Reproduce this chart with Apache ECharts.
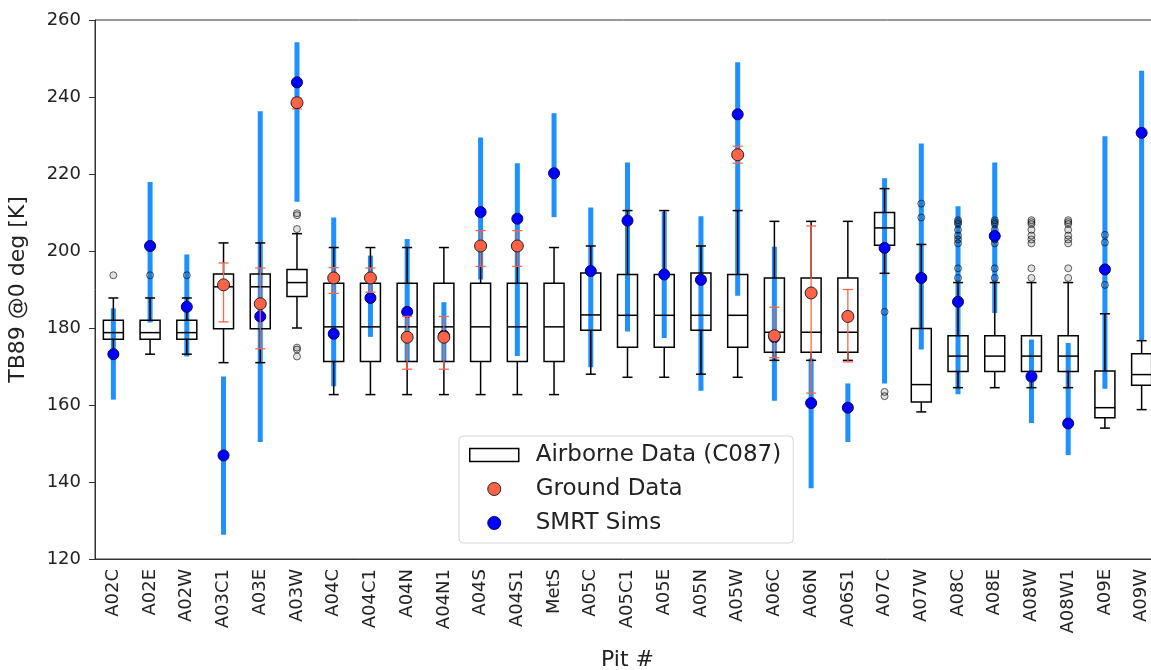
<!DOCTYPE html>
<html>
<head>
<meta charset="utf-8">
<title>TB89 by pit</title>
<script src="https://cdn.jsdelivr.net/npm/echarts@6/dist/echarts.min.js"></script>
<style>
  html, body { margin: 0; padding: 0; background: #fff; }
  #chart { width: 1151px; height: 670px; }
</style>
</head>
<body>
<div id="chart"></div>
<script>
// pit names
var pits = ['A02C', 'A02E', 'A02W', 'A03C1', 'A03E', 'A03W', 'A04C', 'A04C1', 'A04N', 'A04N1',
    'A04S', 'A04S1', 'MetS', 'A05C', 'A05C1', 'A05E', 'A05N', 'A05W', 'A06C', 'A06N',
    'A06S1', 'A07C', 'A07W', 'A08C', 'A08E', 'A08W', 'A08W1', 'A09E', 'A09W'];

// airborne boxplot stats (whisker low, Q1, median, Q3, whisker high)
var boxLow = [173.5, 173.2, 173.2, 171.0, 171.0, 180.0, 162.7, 162.7, 162.7, 162.7,
    162.7, 162.7, 162.7, 168.0, 167.2, 167.2, 168.0, 167.2, 171.6, 171.6,
    171.6, 194.2, 158.2, 164.5, 164.5, 164.5, 164.5, 154.0, 158.8];
var boxQ1 = [177.1, 177.1, 177.1, 179.8, 179.8, 188.2, 171.3, 171.3, 171.3, 171.3,
    171.3, 171.3, 171.3, 179.4, 175.0, 175.0, 179.4, 175.0, 173.7, 173.7,
    173.7, 201.5, 160.8, 168.7, 168.7, 168.7, 168.7, 156.7, 165.1];
var boxMed = [178.8, 178.8, 178.8, 190.7, 190.7, 191.8, 180.3, 180.3, 180.3, 180.3,
    180.3, 180.3, 180.3, 183.4, 183.3, 183.3, 183.3, 183.3, 178.9, 178.9,
    178.9, 206.0, 165.3, 172.7, 172.7, 172.7, 172.7, 159.3, 167.9];
var boxQ3 = [182.0, 182.0, 182.0, 194.0, 194.0, 195.2, 191.6, 191.6, 191.6, 191.6,
    191.6, 191.6, 191.6, 194.3, 193.9, 193.9, 194.3, 193.9, 193.0, 193.0,
    193.0, 210.0, 179.9, 178.0, 178.0, 178.0, 178.0, 168.8, 173.3];
var boxHigh = [187.8, 187.8, 187.8, 202.1, 202.1, 204.5, 200.9, 200.9, 200.9, 200.9,
    200.9, 200.9, 200.9, 201.3, 210.5, 210.5, 201.3, 210.5, 207.7, 207.7,
    207.7, 216.2, 201.7, 191.8, 191.8, 191.8, 191.8, 183.7, 176.7];

// outliers per pit
var a08Fliers = [208.0, 207.5, 207.0, 205.5, 204.0, 203.0, 202.0, 195.5, 193.0];
var fliers = [[193.7], [193.7], [193.7], [], [], [209.8, 209.3, 205.7, 174.9, 174.4, 172.6], [], [], [], [],
    [], [], [], [], [], [], [], [], [], [],
    [], [184.2, 163.4, 162.3], [212.3, 208.7], a08Fliers, a08Fliers, a08Fliers, a08Fliers, [204.2, 202.2, 191.2], []];

// ground data (null = no measurement)
var groundVal = [null, null, null, 191.2, 186.3, 238.5, 193.0, 193.0, 177.6, 177.6,
    201.3, 201.3, null, null, null, null, null, 225.0, 178.0, 189.1,
    183.0, null, null, null, null, null, null, null, null];
var groundLo = [null, null, null, 181.6, 174.6, 236.9, 189.0, 189.3, 169.3, 169.3,
    196.0, 196.0, null, null, null, null, null, 222.8, 172.3, 163.1,
    171.2, null, null, null, null, null, null, null, null];
var groundHi = [null, null, null, 196.9, 195.6, 239.7, 195.7, 195.6, 183.0, 183.0,
    205.3, 205.3, null, null, null, null, null, 227.2, 185.4, 206.5,
    190.0, null, null, null, null, null, null, null, null];

// SMRT simulations
var smrtVal = [173.2, 201.3, 185.5, 146.9, 183.0, 243.8, 178.5, 187.8, 184.2, 178.0,
    210.1, 208.4, 220.2, 194.8, 207.9, 193.9, 192.5, 235.5, 177.6, 160.5,
    159.3, 200.8, 193.0, 186.8, 203.9, 167.4, 155.2, 195.2, 230.7];
var smrtLo = [161.4, 181.4, 172.6, 126.3, 150.4, 212.8, 164.9, 177.7, 171.2, 171.2,
    192.6, 172.7, 208.8, 169.8, 179.1, 177.4, 163.7, 188.4, 161.1, 138.4,
    150.4, 165.6, 174.4, 162.8, 183.9, 155.3, 147.0, 164.2, 176.7];
var smrtHi = [185.1, 217.9, 199.1, 167.4, 236.3, 254.2, 208.7, 198.8, 203.1, 186.7,
    229.5, 222.8, 235.8, 211.3, 223.0, 210.2, 209.0, 249.0, 201.1, 172.1,
    165.6, 218.9, 227.9, 211.6, 223.0, 177.0, 176.1, 229.8, 246.8];

var yTicks = { min: 120, max: 260, step: 20 };

// build series data
var boxData = [], flierData = [], groundBars = [], groundPts = [], smrtBars = [], smrtPts = [];
for (var i = 0; i < pits.length; i++) {
    boxData.push([i, boxLow[i], boxQ1[i], boxMed[i], boxQ3[i], boxHigh[i]]);
    for (var k = 0; k < fliers[i].length; k++) flierData.push([i, fliers[i][k]]);
    if (groundVal[i] !== null) {
        groundBars.push([i, groundLo[i], groundHi[i]]);
        groundPts.push([i, groundVal[i]]);
    }
    smrtBars.push([i, smrtLo[i], smrtHi[i]]);
    smrtPts.push([i, smrtVal[i]]);
}

var font = 'DejaVu Sans';

function renderBox(params, api) {
    var x = api.value(0);
    var lo = api.coord([x, api.value(1)]);
    var q1 = api.coord([x, api.value(2)]);
    var md = api.coord([x, api.value(3)]);
    var q3 = api.coord([x, api.value(4)]);
    var hi = api.coord([x, api.value(5)]);
    var cx = md[0], hw = 10, cw = 5;
    var st = { stroke: '#000', lineWidth: 1.5, fill: 'none' };
    return {
        type: 'group',
        children: [
            { type: 'rect', shape: { x: cx - hw, y: q3[1], width: hw * 2, height: q1[1] - q3[1] }, style: st },
            { type: 'line', shape: { x1: cx - hw, y1: md[1], x2: cx + hw, y2: md[1] }, style: st },
            { type: 'line', shape: { x1: cx, y1: q3[1], x2: cx, y2: hi[1] }, style: st },
            { type: 'line', shape: { x1: cx, y1: q1[1], x2: cx, y2: lo[1] }, style: st },
            { type: 'line', shape: { x1: cx - cw, y1: hi[1], x2: cx + cw, y2: hi[1] }, style: st },
            { type: 'line', shape: { x1: cx - cw, y1: lo[1], x2: cx + cw, y2: lo[1] }, style: st }
        ]
    };
}

function renderSmrtBar(params, api) {
    var x = api.value(0);
    var a = api.coord([x, api.value(1)]);
    var b = api.coord([x, api.value(2)]);
    return { type: 'line', shape: { x1: a[0], y1: a[1], x2: b[0], y2: b[1] },
        style: { stroke: '#1e90ff', lineWidth: 5 } };
}

function renderGroundBar(params, api) {
    var x = api.value(0);
    var a = api.coord([x, api.value(1)]);
    var b = api.coord([x, api.value(2)]);
    var st = { stroke: '#ff6347', lineWidth: 1.3 };
    return {
        type: 'group',
        children: [
            { type: 'line', shape: { x1: a[0], y1: a[1], x2: b[0], y2: b[1] }, style: st },
            { type: 'line', shape: { x1: a[0] - 5, y1: a[1], x2: a[0] + 5, y2: a[1] }, style: st },
            { type: 'line', shape: { x1: b[0] - 5, y1: b[1], x2: b[0] + 5, y2: b[1] }, style: st }
        ]
    };
}

var chart = echarts.init(document.getElementById('chart'));
var option = {
    animation: false,
    backgroundColor: '#fff',
    textStyle: { fontFamily: font },
    grid: {
        left: 95, top: 20, width: 1065, height: 539,
        outerBoundsMode: 'none',
        show: true, borderColor: '#333', borderWidth: 1
    },
    legend: {
        orient: 'vertical',
        left: 459,
        top: 436,
        padding: [7, 12, 8, 10],
        itemWidth: 49,
        itemHeight: 13,
        itemGap: 10,
        selectedMode: false,
        backgroundColor: '#fff',
        borderColor: '#d6d6d6',
        borderWidth: 1,
        borderRadius: 4,
        textStyle: { fontFamily: font, fontSize: 23, color: '#222', lineHeight: 24, padding: [0, 0, 0, 12] },
        data: [
            { name: 'Airborne Data (C087)', icon: 'rect', itemStyle: { color: '#fff', borderColor: '#000', borderWidth: 1.5 } },
            { name: 'Ground Data', icon: 'circle', itemStyle: { color: '#ff6347', borderColor: '#222', borderWidth: 1 } },
            { name: 'SMRT Sims', icon: 'circle', itemStyle: { color: '#0000ff', borderColor: '#00006b', borderWidth: 1 } }
        ]
    },
    xAxis: {
        type: 'category',
        data: pits,
        name: 'Pit #',
        nameLocation: 'middle',
        nameGap: 90,
        nameTextStyle: { fontFamily: font, fontSize: 22, color: '#222' },
        axisLine: { lineStyle: { color: '#333', width: 1 } },
        axisTick: { alignWithLabel: true, length: 6, lineStyle: { color: '#333' } },
        axisLabel: { rotate: 90, fontFamily: font, fontSize: 18, color: '#222', margin: 10, interval: 0 },
        splitLine: { show: false }
    },
    yAxis: {
        type: 'value',
        min: yTicks.min,
        max: yTicks.max,
        interval: yTicks.step,
        name: 'TB89 @0 deg [K]',
        nameLocation: 'middle',
        nameGap: 66,
        nameTextStyle: { fontFamily: font, fontSize: 22, color: '#222' },
        axisLine: { show: true, lineStyle: { color: '#333', width: 1 } },
        axisTick: { show: true, length: 6, lineStyle: { color: '#333' } },
        axisLabel: { fontFamily: font, fontSize: 18, color: '#222', margin: 14 },
        splitLine: { show: false }
    },
    series: [
        {
            name: 'SMRT Sims',
            type: 'custom',
            z: 1,
            renderItem: renderSmrtBar,
            encode: { x: 0, y: [1, 2] },
            data: smrtBars
        },
        {
            name: 'Airborne Data (C087)',
            type: 'custom',
            z: 2,
            renderItem: renderBox,
            encode: { x: 0, y: [1, 2, 3, 4, 5] },
            data: boxData
        },
        {
            name: 'Airborne Data (C087)',
            type: 'scatter',
            z: 3,
            symbol: 'circle',
            symbolSize: 7,
            itemStyle: { color: 'rgba(0,0,0,0.15)', borderColor: 'rgba(0,0,0,0.75)', borderWidth: 1 },
            data: flierData
        },
        {
            name: 'SMRT Sims',
            type: 'scatter',
            z: 4,
            symbolSize: 11,
            itemStyle: { color: '#0000ff', borderColor: '#00006b', borderWidth: 1, opacity: 1 },
            data: smrtPts
        },
        {
            name: 'Ground Data',
            type: 'custom',
            z: 5,
            renderItem: renderGroundBar,
            encode: { x: 0, y: [1, 2] },
            data: groundBars
        },
        {
            name: 'Ground Data',
            type: 'scatter',
            z: 6,
            symbolSize: 12,
            itemStyle: { color: '#ff6347', borderColor: '#222', borderWidth: 1, opacity: 1 },
            data: groundPts
        }
    ]
};
chart.setOption(option);
window.onresize = function() {
    chart.resize();
};
</script>
</body>
</html>
